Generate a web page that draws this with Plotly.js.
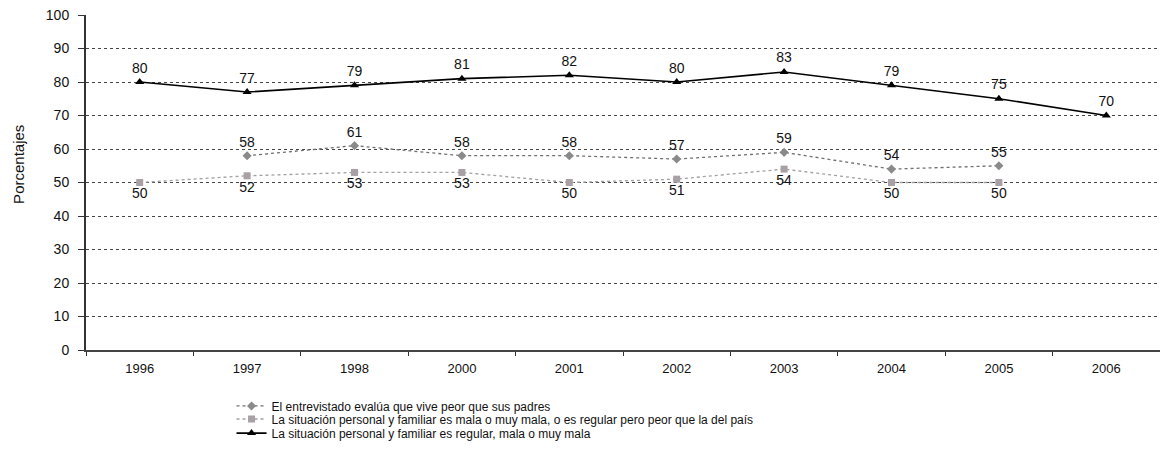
<!DOCTYPE html>
<html><head><meta charset="utf-8">
<script src="https://cdn.plot.ly/plotly-3.0.1.min.js"></script>
<style>body{margin:0;background:#fff}#chart{width:1160px;height:457px}</style>
</head><body><div id="chart"></div>
<script>
const years = ["1996","1997","1998","2000","2001","2002","2003","2004","2005","2006"];
const peorPadres = [null,58,61,58,58,57,59,54,55,null];
const malaPeorPais = [50,52,53,53,50,51,54,50,50,null];
const regularMala = [80,77,79,81,82,80,83,79,75,70];
const names = [
  "El entrevistado evalúa que vive peor que sus padres",
  "La situación personal y familiar es mala o muy mala, o es regular pero peor que la del país",
  "La situación personal y familiar es regular, mala o muy mala"
];
const yTitle = "Porcentajes";
const lbl = a => a.map(v => v === null ? "" : String(v));
const tf = {family:"Liberation Sans, Arial, sans-serif", size:14, color:"#111"};
const traces = [
  {x:years, y:peorPadres, name:names[0], legend:"legend", mode:"lines+markers+text", text:lbl(peorPadres), textposition:"top center", textfont:tf,
   line:{color:"#6f6f6f", width:1.3, dash:"dot"}, marker:{symbol:"diamond", size:7, color:"#8a8a8a"}, cliponaxis:false},
  {x:years, y:malaPeorPais, name:names[1], legend:"legend2", mode:"lines+markers+text", text:lbl(malaPeorPais), textposition:"bottom center", textfont:tf,
   line:{color:"#a0a0a0", width:1.3, dash:"dot"}, marker:{symbol:"square", size:7, color:"#a8a0a4"}, cliponaxis:false},
  {x:years, y:regularMala, name:names[2], legend:"legend3", mode:"lines+markers+text", text:lbl(regularMala), textposition:"top center", textfont:tf,
   line:{color:"#000", width:1.6}, marker:{symbol:"triangle-up", size:8, color:"#000"}, cliponaxis:false}
];
const leg = y => ({x:0.1355, xanchor:"left", y:y, yanchor:"middle", font:{size:12}, itemwidth:30, bgcolor:"rgba(0,0,0,0)", borderwidth:0});
const layout = {
  width:1160, height:457,
  margin:{l:86, r:0, t:15, b:107, autoexpand:false},
  paper_bgcolor:"#fff", plot_bgcolor:"#fff",
  font:{family:"Liberation Sans, Arial, sans-serif", size:13, color:"#111"},
  showlegend:true,
  legend:leg(-0.167), legend2:leg(-0.206), legend3:leg(-0.248),
  xaxis:{type:"category", range:[-0.5, 9.5], showline:true, linecolor:"#444", linewidth:2, ticks:"outside", tickson:"boundaries", ticklen:4, tickcolor:"#333",
    showgrid:false, zeroline:false, tickfont:{size:13}, ticklabelstandoff:5},
  yaxis:{range:[0,100], dtick:10, showline:true, linecolor:"#333", linewidth:2, ticks:"outside", ticklen:6, tickcolor:"#333",
    showgrid:true, gridcolor:"#444", griddash:"dot", gridwidth:1, zeroline:false, tickfont:{size:14}, ticklabelstandoff:6},
  annotations:[{text:yTitle, textangle:-90, xref:"paper", yref:"paper", x:-0.0635, y:0.555, xanchor:"center", yanchor:"middle", showarrow:false,
    font:{family:"Liberation Sans Narrow, Arial Narrow, sans-serif", size:15, color:"#111"}}]
};
Plotly.newPlot("chart", traces, layout, {displayModeBar:false, staticPlot:true});
</script></body></html>
